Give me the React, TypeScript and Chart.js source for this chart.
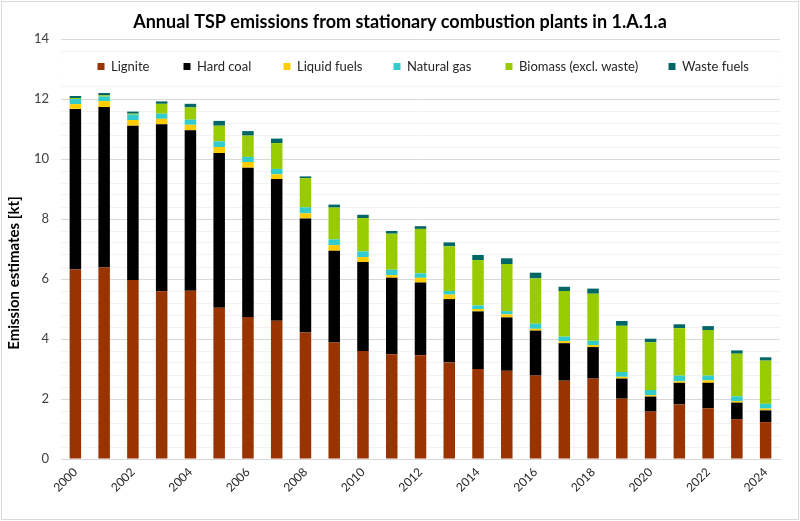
import React, { useEffect, useRef } from "react";
import { Chart, registerables } from "chart.js";

Chart.register(...registerables);

const years = [
  "2000", "2001", "2002", "2003", "2004", "2005", "2006", "2007", "2008", "2009",
  "2010", "2011", "2012", "2013", "2014", "2015", "2016", "2017", "2018", "2019",
  "2020", "2021", "2022", "2023", "2024",
];

const lignite = [6.32, 6.38, 5.97, 5.59, 5.61, 5.04, 4.73, 4.61, 4.22, 3.88, 3.6, 3.49, 3.46, 3.22, 3.0, 2.94, 2.78, 2.61, 2.68, 2.01, 1.58, 1.82, 1.69, 1.33, 1.23];
const hardCoal = [5.35, 5.35, 5.14, 5.57, 5.35, 5.16, 4.98, 4.72, 3.8, 3.06, 2.97, 2.55, 2.42, 2.11, 1.92, 1.78, 1.5, 1.25, 1.05, 0.67, 0.5, 0.72, 0.85, 0.55, 0.39];
const liquidFuels = [0.16, 0.2, 0.19, 0.18, 0.18, 0.2, 0.19, 0.16, 0.17, 0.19, 0.16, 0.09, 0.16, 0.15, 0.08, 0.1, 0.06, 0.07, 0.07, 0.06, 0.05, 0.05, 0.08, 0.05, 0.06];
const naturalGas = [0.17, 0.15, 0.18, 0.17, 0.17, 0.19, 0.17, 0.18, 0.2, 0.19, 0.19, 0.18, 0.15, 0.12, 0.12, 0.11, 0.17, 0.15, 0.14, 0.16, 0.17, 0.19, 0.16, 0.16, 0.16];
const biomass = [0.03, 0.04, 0.03, 0.33, 0.41, 0.52, 0.71, 0.86, 0.97, 1.06, 1.11, 1.2, 1.48, 1.49, 1.51, 1.57, 1.51, 1.52, 1.57, 1.54, 1.59, 1.58, 1.52, 1.42, 1.44];
const wasteFuels = [0.07, 0.08, 0.07, 0.08, 0.12, 0.16, 0.15, 0.15, 0.06, 0.1, 0.11, 0.09, 0.09, 0.13, 0.17, 0.19, 0.19, 0.14, 0.17, 0.16, 0.12, 0.13, 0.13, 0.11, 0.11];

const seriesNames = ["Lignite", "Hard coal", "Liquid fuels", "Natural gas", "Biomass (excl. waste)", "Waste fuels"];
const seriesColors = ["#993300", "#000000", "#FFCC00", "#33CCCC", "#99CC00", "#006666"];
const seriesValues = [lignite, hardCoal, liquidFuels, naturalGas, biomass, wasteFuels];

const titleText = "Annual TSP emissions from stationary combustion plants in 1.A.1.a";
const yTitleText = "Emission estimates [kt]";
const legendX = [101, 187, 287, 397, 509, 672];

const FONT = "Lato, 'Liberation Sans', sans-serif";

const decorPlugin = {
  id: "decor",
  beforeDraw(chart: any) {
    const ctx = chart.ctx;
    ctx.save();
    ctx.fillStyle = "#ffffff";
    ctx.fillRect(0, 0, chart.width, chart.height);
    ctx.restore();
  },
  afterDraw(chart: any) {
    const ctx = chart.ctx;
    ctx.save();
    // border
    ctx.strokeStyle = "#d9d9d9";
    ctx.lineWidth = 1;
    ctx.strokeRect(1.5, 1.5, chart.width - 3, chart.height - 3);
    // title
    ctx.fillStyle = "#000000";
    ctx.font = `bold 18px ${FONT}`;
    ctx.textAlign = "center";
    ctx.textBaseline = "middle";
    ctx.fillText(titleText, 400, 22);
    // y title
    ctx.save();
    ctx.translate(14, 273);
    ctx.rotate(-Math.PI / 2);
    ctx.font = `bold 15px ${FONT}`;
    ctx.fillText(yTitleText, 0, 0);
    ctx.restore();
    // legend
    const area = chart.chartArea;
    ctx.fillStyle = "#ffffff";
    ctx.fillRect(area.left + 1, 56, area.right - area.left - 2, 22);
    ctx.font = `13px ${FONT}`;
    ctx.textAlign = "left";
    ctx.textBaseline = "middle";
    seriesNames.forEach((name, i) => {
      ctx.fillStyle = seriesColors[i];
      ctx.fillRect(legendX[i] - 3.5, 63, 7, 7);
      ctx.fillStyle = "#262626";
      ctx.fillText(name, legendX[i] + 10, 67);
    });
    ctx.restore();
  },
};

export default function App() {
  const canvasRef = useRef<HTMLCanvasElement | null>(null);

  useEffect(() => {
    if (!canvasRef.current) return;
    const chart = new Chart(canvasRef.current, {
      type: "bar",
      data: {
        labels: years,
        datasets: seriesNames.map((name, i) => ({
          label: name,
          data: seriesValues[i],
          backgroundColor: seriesColors[i],
          borderWidth: 0,
          categoryPercentage: 1,
          barPercentage: 0.4,
        })),
      },
      options: {
        animation: false,
        responsive: false,
        devicePixelRatio: 1,
        layout: { padding: { top: 39, right: 20, left: 0, bottom: 0 } },
        plugins: {
          legend: { display: false },
          title: { display: false },
          tooltip: { enabled: false },
        },
        scales: {
          x: {
            stacked: true,
            grid: { display: false, drawTicks: false },
            border: { display: true, color: "#d9d9d9", width: 1 },
            ticks: {
              autoSkip: false,
              maxRotation: 45,
              minRotation: 45,
              padding: 6,
              color: "#262626",
              font: { family: FONT, size: 12 },
              callback: (_v: any, i: number) => (i % 2 === 0 ? years[i] : ""),
            },
            afterFit: (scale: any) => {
              scale.height = 62;
            },
          },
          y: {
            stacked: true,
            min: 0,
            max: 14,
            grid: {
              drawTicks: false,
              color: (c: any) => (c.index % 5 === 0 ? "#d9d9d9" : "#f2f2f2"),
              lineWidth: 1,
            },
            border: { display: false },
            ticks: {
              stepSize: 0.4,
              autoSkip: false,
              padding: 12,
              color: "#404040",
              font: { family: FONT, size: 13 },
              callback: (v: any) => {
                const n = Number(v);
                return Math.abs(n / 2 - Math.round(n / 2)) < 1e-6 ? String(Math.round(n)) : "";
              },
            },
            afterFit: (scale: any) => {
              scale.width = 61;
            },
          },
        },
      },
      plugins: [decorPlugin],
    });
    return () => chart.destroy();
  }, []);

  return (
    <div style={{ position: "absolute", left: 0, top: 0, width: 800, height: 521 }}>
      <canvas ref={canvasRef} width={800} height={521} style={{ display: "block" }} />
    </div>
  );
}
